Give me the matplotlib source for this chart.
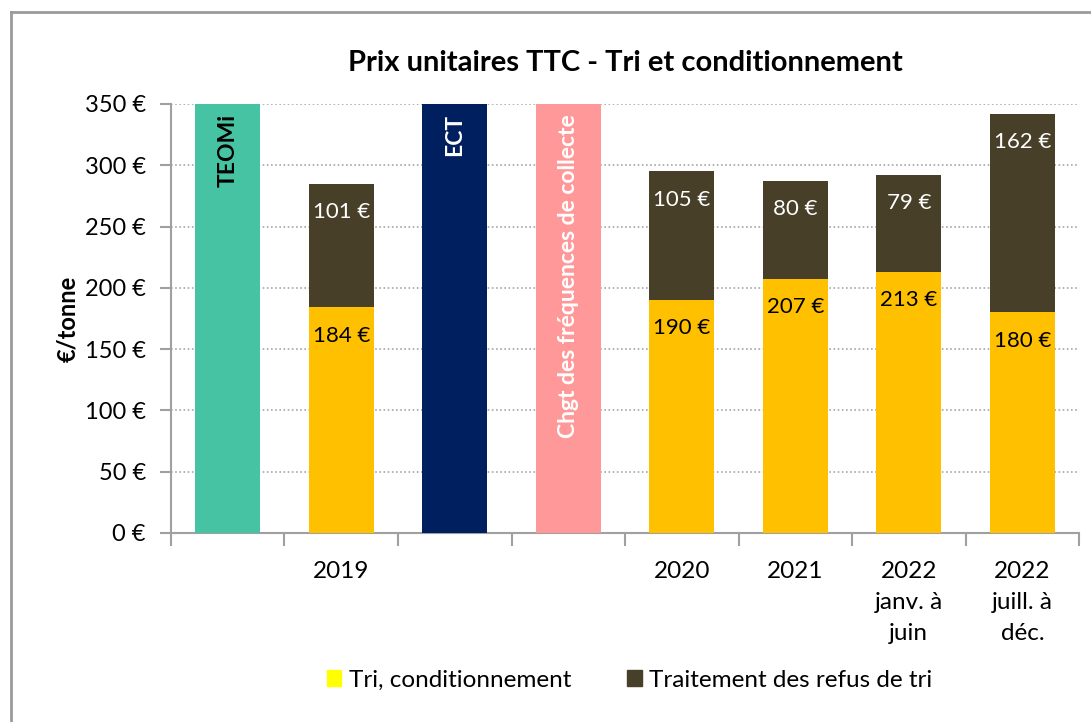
import numpy as np
import matplotlib.pyplot as plt
from matplotlib.lines import Line2D
from matplotlib.patches import Patch

plt.rcParams['font.family'] = ['Lato', 'DejaVu Sans']

# categories (the empty slots hold the "event" bars)
categories = ["", "2019", "", "", "2020", "2021", "2022\njanv. à\njuin", "2022\njuill. à\ndéc."]
tri = [0, 184, 0, 0, 190, 207, 213, 180]
refus = [0, 101, 0, 0, 105, 80, 79, 162]
events = ["TEOMi", "ECT", "Chgt des fréquences de collecte"]
event_pos = [0, 2, 3]
event_height = 350
event_colors = ["#45C3A3", "#001F5E", "#FF9999"]
event_text_colors = ["black", "white", "white"]
yticks = [0, 50, 100, 150, 200, 250, 300, 350]

c_tri = "#FFC000"
c_refus = "#483F29"

fig = plt.figure(figsize=(10.91, 7.22), dpi=100)
ax = fig.add_axes([0.1567, 0.2618, 0.8324, 0.5942])

x = np.arange(len(categories))
w = 0.57
tri = np.array(tri)
refus = np.array(refus)
has = tri > 0
ax.bar(x[has], tri[has], w, color=c_tri, zorder=3)
ax.bar(x[has], refus[has], w, bottom=tri[has], color=c_refus, zorder=3)

for i in x[has]:
    ax.text(i, tri[i] - 23, f"{tri[i]} €", ha="center", va="center", fontsize=16, color="black", zorder=4)
    ax.text(i, tri[i] + refus[i] - 23, f"{refus[i]} €", ha="center", va="center", fontsize=16, color="white", zorder=4)

for p, lab, col, tc in zip(event_pos, events, event_colors, event_text_colors):
    ax.bar(p, event_height, w, color=col, zorder=3)
    ax.text(p, 342, lab, rotation=90, ha="center", va="top", fontsize=16.5,
            fontweight="bold", color=tc, zorder=4)

ax.set_xlim(-0.5, len(categories) - 0.5)
ax.set_ylim(0, 350)
ax.set_yticks(yticks)
ax.set_yticklabels([f"{v} €" for v in yticks], fontsize=17)
ax.yaxis.grid(True, linestyle=(0, (1, 1.5)), color="#A6A6A6", linewidth=1.2, zorder=0)
ax.set_xticks(x)
ax.set_xticklabels(categories, fontsize=17.5, linespacing=1.6)
ax.tick_params(axis="x", length=0, pad=20)
ax.set_xticks(np.arange(-0.5, len(categories)), minor=True)
ax.tick_params(axis="x", which="minor", length=9, color="#A0A0A0", width=1.5)
ax.tick_params(axis="y", length=8, color="#A0A0A0", width=1.5, pad=10)

for s in ["top", "right"]:
    ax.spines[s].set_visible(False)
for s in ["left", "bottom"]:
    ax.spines[s].set_color("#A0A0A0")
    ax.spines[s].set_linewidth(1.5)

ax.set_ylabel("€/tonne", fontsize=17, fontweight="bold", labelpad=4)
ax.set_title("Prix unitaires TTC - Tri et conditionnement", fontsize=21, fontweight="bold", pad=24)

handles = [Patch(color="#FFFF00"), Patch(color=c_refus)]
fig.legend(handles, ["Tri, conditionnement", "Traitement des refus de tri"],
           loc="center", bbox_to_anchor=(0.577, 0.058), ncol=2, frameon=False,
           fontsize=17.5, handlelength=0.6, handleheight=0.6, handletextpad=0.3, columnspacing=2.3)

# outer frame
fig.add_artist(Line2D([11 / 1091, 1], [1 - 12 / 722, 1 - 12 / 722], color="#9A9A9A", linewidth=2))
fig.add_artist(Line2D([11 / 1091, 11 / 1091], [0, 1 - 12 / 722], color="#9A9A9A", linewidth=2))

fig.savefig("out.png", dpi=100)
